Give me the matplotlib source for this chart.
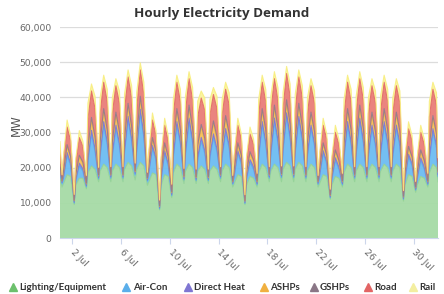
import matplotlib
matplotlib.use("Agg")
import matplotlib.pyplot as plt
from matplotlib.lines import Line2D
from matplotlib.ticker import FuncFormatter

# ---------------- data (MW) ----------------
# four readings per day at 04h, 07h, 14h, 21h (one row per day, 1-31 Jul),
# plus one value at the very start (1 Jul 00h) and the very end (1 Aug 00h)
series_names = ["Lighting/Equipment", "Air-Con", "Direct Heat", "ASHPs",
                "GSHPs", "Road", "Rail"]
day_hours = [4, 7, 14, 21]
n_days = 31

lighting = [17000,
    14500, 15500, 18000, 17500,
    9500, 15000, 17000, 17000,
    14000, 18500, 20500, 19500,
    16000, 19000, 21000, 20000,
    16000, 19000, 21000, 20000,
    16000, 19500, 21500, 20500,
    16500, 19500, 21500, 20500,
    15000, 16000, 18500, 18000,
    8000, 15000, 18000, 17500,
    11500, 18500, 21000, 20000,
    15500, 19000, 21000, 20000,
    15500, 19000, 20500, 19500,
    15500, 19000, 20500, 19500,
    16000, 19000, 21000, 20000,
    14500, 15500, 18000, 17500,
    9500, 15000, 17500, 17000,
    14500, 18500, 21000, 20000,
    16000, 19000, 21000, 20000,
    16000, 19500, 21500, 20500,
    16000, 19500, 21500, 20500,
    16000, 19000, 21000, 20000,
    14500, 15500, 18000, 17500,
    11000, 15000, 17500, 17000,
    14500, 18500, 21000, 20000,
    16000, 19000, 21000, 20000,
    16000, 19000, 21000, 20000,
    16000, 19000, 21000, 20000,
    16000, 19000, 21000, 20000,
    10500, 15000, 18000, 17500,
    13000, 15000, 17500, 17000,
    14500, 18500, 21000, 20000,
    16000]

aircon = [2000,
    1000, 1500, 5500, 3000,
    400, 1000, 3500, 2000,
    500, 3000, 9000, 5000,
    800, 4000, 11000, 6500,
    1000, 4000, 10000, 6000,
    1000, 4500, 12000, 7000,
    1500, 5000, 14000, 8000,
    1200, 2500, 7000, 4000,
    300, 1500, 6000, 3000,
    500, 4000, 11000, 6500,
    1000, 4500, 12000, 7000,
    800, 3000, 7000, 4500,
    800, 3500, 8000, 5000,
    1000, 3500, 9000, 5500,
    800, 2000, 6000, 3500,
    300, 1500, 4000, 2500,
    600, 4000, 11000, 6500,
    1000, 4500, 12000, 7000,
    1200, 5000, 13000, 7500,
    1200, 4500, 12000, 7000,
    1000, 4000, 10000, 6000,
    800, 2000, 6000, 3500,
    400, 1500, 4500, 2500,
    600, 4000, 11000, 6500,
    1000, 4500, 12000, 7000,
    1000, 4000, 10000, 6000,
    1000, 4500, 11000, 6500,
    1000, 4000, 10000, 6000,
    500, 1500, 5000, 3000,
    600, 1500, 4500, 2500,
    600, 3500, 9000, 5500,
    1500]

direct_heat = [600,
    300, 600, 800, 700,
    300, 600, 800, 700,
    400, 1000, 1100, 900,
    400, 1000, 1100, 900,
    400, 1000, 1100, 900,
    400, 1000, 1100, 900,
    400, 1000, 1100, 900,
    300, 600, 800, 700,
    300, 600, 800, 700,
    400, 1000, 1100, 900,
    400, 1000, 1100, 900,
    400, 1000, 1100, 900,
    400, 1000, 1100, 900,
    400, 1000, 1100, 900,
    300, 600, 800, 700,
    300, 600, 800, 700,
    400, 1000, 1100, 900,
    400, 1000, 1100, 900,
    400, 1000, 1100, 900,
    400, 1000, 1100, 900,
    400, 1000, 1100, 900,
    300, 600, 800, 700,
    300, 600, 800, 700,
    400, 1000, 1100, 900,
    400, 1000, 1100, 900,
    400, 1000, 1100, 900,
    400, 1000, 1100, 900,
    400, 1000, 1100, 900,
    300, 600, 800, 700,
    300, 600, 800, 700,
    400, 1000, 1100, 900,
    500]

ashps = [1000,
    400, 1200, 1800, 1500,
    400, 1200, 1800, 1500,
    500, 2800, 3000, 2800,
    500, 2800, 3000, 2800,
    500, 2800, 3000, 2800,
    500, 2800, 3000, 2800,
    500, 2800, 3000, 2800,
    400, 1200, 1800, 1500,
    400, 1200, 1800, 1500,
    500, 2800, 3000, 2800,
    500, 2800, 3000, 2800,
    500, 2800, 3000, 2800,
    500, 2800, 3000, 2800,
    500, 2800, 3000, 2800,
    400, 1200, 1800, 1500,
    400, 1200, 1800, 1500,
    500, 2800, 3000, 2800,
    500, 2800, 3000, 2800,
    500, 2800, 3000, 2800,
    500, 2800, 3000, 2800,
    500, 2800, 3000, 2800,
    400, 1200, 1800, 1500,
    400, 1200, 1800, 1500,
    500, 2800, 3000, 2800,
    500, 2800, 3000, 2800,
    500, 2800, 3000, 2800,
    500, 2800, 3000, 2800,
    500, 2800, 3000, 2800,
    400, 1200, 1800, 1500,
    400, 1200, 1800, 1500,
    500, 2800, 3000, 2800,
    800]

gshps = [300,
    150, 300, 450, 400,
    150, 300, 450, 400,
    200, 600, 700, 600,
    200, 600, 700, 600,
    200, 600, 700, 600,
    200, 600, 700, 600,
    200, 600, 700, 600,
    150, 300, 450, 400,
    150, 300, 450, 400,
    200, 600, 700, 600,
    200, 600, 700, 600,
    200, 600, 700, 600,
    200, 600, 700, 600,
    200, 600, 700, 600,
    150, 300, 450, 400,
    150, 300, 450, 400,
    200, 600, 700, 600,
    200, 600, 700, 600,
    200, 600, 700, 600,
    200, 600, 700, 600,
    200, 600, 700, 600,
    150, 300, 450, 400,
    150, 300, 450, 400,
    200, 600, 700, 600,
    200, 600, 700, 600,
    200, 600, 700, 600,
    200, 600, 700, 600,
    200, 600, 700, 600,
    150, 300, 450, 400,
    150, 300, 450, 400,
    200, 600, 700, 600,
    250]

road = [4000,
    1500, 3500, 5000, 4500,
    1500, 3500, 5000, 4500,
    2000, 8000, 7500, 8000,
    2000, 8000, 7500, 8000,
    2000, 8000, 7500, 8000,
    2000, 8000, 7500, 8000,
    2000, 8000, 7500, 8000,
    1500, 3500, 5000, 4500,
    1500, 3500, 5000, 4500,
    2000, 8000, 7500, 8000,
    2000, 8000, 7500, 8000,
    2000, 8000, 7500, 8000,
    2000, 8000, 7500, 8000,
    2000, 8000, 7500, 8000,
    1500, 3500, 5000, 4500,
    1500, 3500, 5000, 4500,
    2000, 8000, 7500, 8000,
    2000, 8000, 7500, 8000,
    2000, 8000, 7500, 8000,
    2000, 8000, 7500, 8000,
    2000, 8000, 7500, 8000,
    1500, 3500, 5000, 4500,
    1500, 3500, 5000, 4500,
    2000, 8000, 7500, 8000,
    2000, 8000, 7500, 8000,
    2000, 8000, 7500, 8000,
    2000, 8000, 7500, 8000,
    2000, 8000, 7500, 8000,
    1500, 3500, 5000, 4500,
    1500, 3500, 5000, 4500,
    2000, 8000, 7500, 8000,
    3000]

rail = [2500,
    150, 900, 2000, 1500,
    150, 900, 2000, 1500,
    200, 4500, 2000, 3500,
    200, 4500, 2000, 3500,
    200, 4500, 2000, 3500,
    200, 4500, 2000, 3500,
    200, 4500, 2000, 3500,
    150, 900, 2000, 1500,
    150, 900, 2000, 1500,
    200, 4500, 2000, 3500,
    200, 4500, 2000, 3500,
    200, 4500, 2000, 3500,
    200, 4500, 2000, 3500,
    200, 4500, 2000, 3500,
    150, 900, 2000, 1500,
    150, 900, 2000, 1500,
    200, 4500, 2000, 3500,
    200, 4500, 2000, 3500,
    200, 4500, 2000, 3500,
    200, 4500, 2000, 3500,
    200, 4500, 2000, 3500,
    150, 900, 2000, 1500,
    150, 900, 2000, 1500,
    200, 4500, 2000, 3500,
    200, 4500, 2000, 3500,
    200, 4500, 2000, 3500,
    200, 4500, 2000, 3500,
    200, 4500, 2000, 3500,
    150, 900, 2000, 1500,
    150, 900, 2000, 1500,
    200, 4500, 2000, 3500,
    800]

tick_days = [2, 6, 10, 14, 18, 22, 26, 30]
tick_labels = ["2 Jul", "6 Jul", "10 Jul", "14 Jul", "18 Jul", "22 Jul",
               "26 Jul", "30 Jul"]
y_ticks = [0, 10000, 20000, 30000, 40000, 50000, 60000]

# ---------------- styling ----------------
fill_colors = ["#a6dba6", "#6cbcf2", "#8f86dc", "#f6c05a", "#a28a9c",
               "#e97d78", "#fbf39c"]
line_colors = ["#94d294", "#5aaeea", "#7f76d2", "#f0b040", "#927a8c",
               "#e26a64", "#f8ee80"]
marker_colors = ["#6cc06c", "#5aaeea", "#7f76d2", "#f0b040", "#8a7686",
                 "#e26464", "#f3eea0"]

W, H, DPI = 444, 294, 100
fig = plt.figure(figsize=(W / DPI, H / DPI), dpi=DPI)
fig.patch.set_facecolor("white")

left, right, top, bottom = 60, 438, 27, 238
ax = fig.add_axes([left / W, 1 - bottom / H, (right - left) / W, (bottom - top) / H])

times = [0] + [d * 24 + h for d in range(n_days) for h in day_hours] + [n_days * 24]
xs = [t / 24 for t in times]
data = [lighting, aircon, direct_heat, ashps, gshps, road, rail]
for s in data:
    assert len(s) == len(xs), len(s)

ax.stackplot(xs, *data, colors=fill_colors, alpha=0.95, linewidth=0)
cum = [0.0] * len(xs)
for vals, lc in zip(data, line_colors):
    cum = [c + v for c, v in zip(cum, vals)]
    ax.plot(xs, cum, color=lc, lw=0.8, alpha=0.9)

ax.set_xlim(0, n_days)
ax.set_ylim(0, 60000)
ax.set_yticks(y_ticks)
ax.yaxis.set_major_formatter(FuncFormatter(lambda v, p: f"{int(v):,}"))
ax.grid(axis="y", color="#dcdcdc", lw=0.9)
ax.set_axisbelow(True)
for s in ["top", "right", "left"]:
    ax.spines[s].set_visible(False)
ax.spines["bottom"].set_color("#ccd6eb")
ax.tick_params(axis="y", length=0, pad=6, labelsize=6.6, labelcolor="#666666")

ax.set_xticks([d - 1 for d in tick_days])
ax.set_xticklabels(tick_labels, rotation=-45, ha="left", va="center",
                   rotation_mode="anchor", fontsize=6.6, color="#666666")
ax.tick_params(axis="x", length=4, color="#ccd6eb", pad=5)

fig.text(16 / W, 1 - 125 / H, "MW", rotation=90, ha="center", va="center",
         fontsize=8.5, color="#555555")

fig.text(222 / W, 1 - 13 / H, "Hourly Electricity Demand", ha="center",
         va="center", fontsize=9.6, fontweight="bold", color="#333333",
         family="Open Sans")

# legend
legend_marker_x = [13, 126, 188, 264, 314, 368, 413]
legend_text_x = [19, 133, 194, 270, 320, 374, 419]
ly = 1 - 287 / H
for name, mc, mx, tx in zip(series_names, marker_colors, legend_marker_x, legend_text_x):
    fig.add_artist(Line2D([mx / W], [ly], marker="^", markersize=5.5, color=mc,
                          linestyle="none", transform=fig.transFigure))
    fig.text(tx / W, ly, name, ha="left", va="center", fontsize=7,
             fontweight="bold", color="#333333", family="Lato")

fig.savefig("out.png", dpi=DPI, facecolor="white")
